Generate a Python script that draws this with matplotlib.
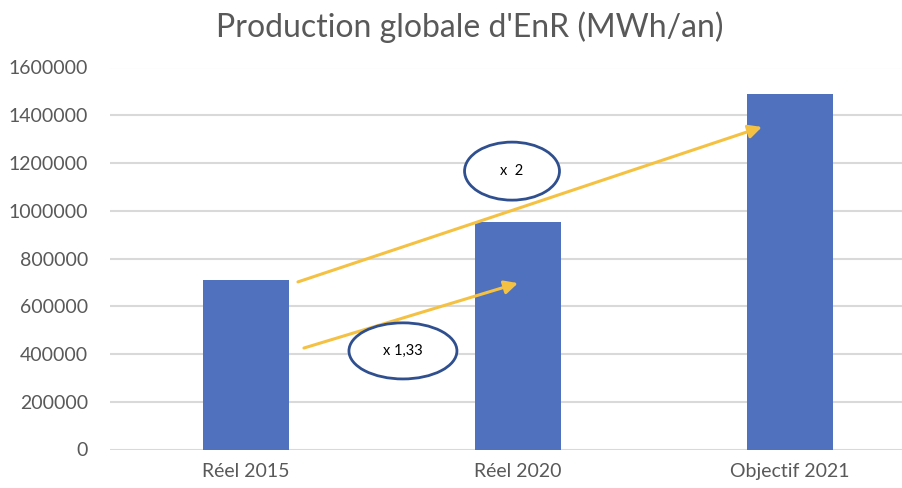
import matplotlib
matplotlib.use("Agg")
import matplotlib.pyplot as plt
from matplotlib.patches import Ellipse

# values
categories = ["Réel 2015", "Réel 2020", "Objectif 2021"]
production = [710000, 953000, 1490000]
yticks = [0, 200000, 400000, 600000, 800000, 1000000, 1200000, 1400000, 1600000]

TEXT_COLOR = "#595959"
BAR_COLOR = "#4F71BE"
ARROW_COLOR = "#F4C142"
RING_COLOR = "#2F4F8F"
GRID_COLOR = "#D9D9D9"

plt.rcParams["font.family"] = ["Lato", "DejaVu Sans"]

fig = plt.figure(figsize=(9.03, 4.88), dpi=100)
# plot area runs past the right edge, like the cropped original
ax = fig.add_axes([110 / 903, 38.5 / 488, 816 / 903, 382 / 488])

x = list(range(len(categories)))
ax.bar(x, production, width=0.315, color=BAR_COLOR, zorder=2)
ax.set_xlim(-0.5, 2.5)
ax.set_ylim(0, 1600000)
ax.set_yticks(yticks)
ax.set_yticklabels([str(v) for v in yticks])
ax.set_xticks(x)
ax.set_xticklabels(categories)
ax.tick_params(axis="both", length=0, labelsize=14, colors=TEXT_COLOR)
ax.tick_params(axis="y", pad=16)
ax.tick_params(axis="x", pad=10)
ax.grid(axis="y", color=GRID_COLOR, lw=1.5, zorder=0)
for s in ax.spines.values():
    s.set_visible(False)

fig.text(0.5 * (218 + 721) / 903, 1 - 27 / 488, "Production globale d'EnR (MWh/an)",
         ha="center", va="center", fontsize=23, color=TEXT_COLOR)

# growth arrows
arrow_kw = dict(arrowstyle="-|>", color=ARROW_COLOR, lw=2.2, mutation_scale=20,
                shrinkA=0, shrinkB=0)
ax.annotate("", xy=(1.897, 1351000), xytext=(0.191, 702000), arrowprops=arrow_kw, zorder=4)
ax.annotate("", xy=(1.0, 697000), xytext=(0.213, 425000), arrowprops=arrow_kw, zorder=4)

# ringed labels
for (cx, cy, w, h, label) in [(0.978, 1166000, 0.349, 243000, "x  2"),
                               (0.577, 413000, 0.397, 235000, "x 1,33")]:
    ax.add_patch(Ellipse((cx, cy), w, h, facecolor="white", edgecolor=RING_COLOR,
                         lw=2, zorder=5))
    ax.text(cx, cy, label, ha="center", va="center", fontsize=10.5, color="black", zorder=6)

fig.savefig("out.png", dpi=100)
